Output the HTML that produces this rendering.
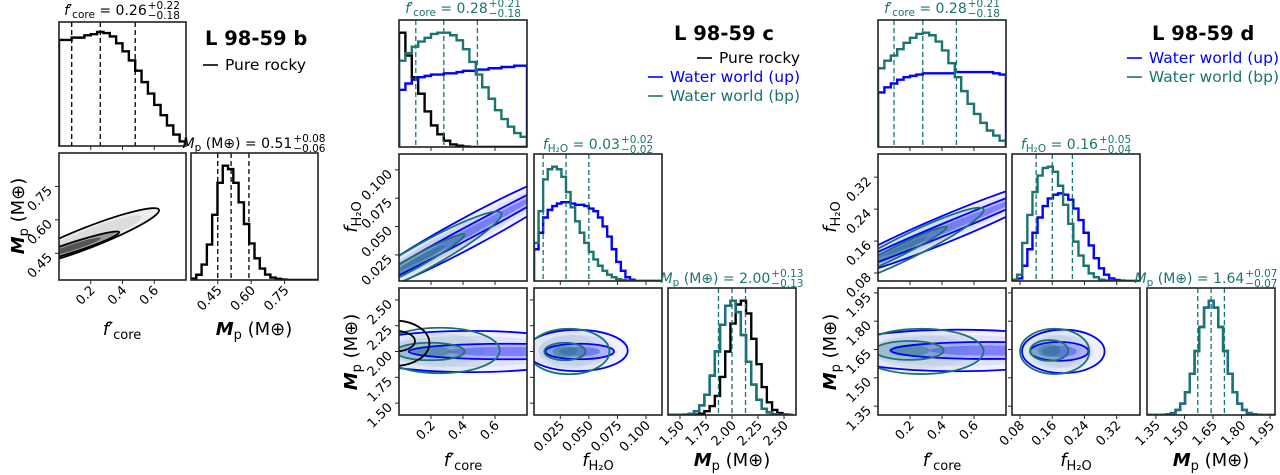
<!DOCTYPE html>
<html><head><meta charset="utf-8"><style>
html,body{margin:0;padding:0;background:#fff;}
svg{display:block;font-family:"DejaVu Sans","Liberation Sans",sans-serif;}
</style></head><body>
<svg id="chart" width="1280" height="475" viewBox="0 0 1280 475" xmlns="http://www.w3.org/2000/svg"></svg>
<script>
// ---------- data ----------
const TEAL='#1a7470', BLUE='#0000ff', BLACK='#000';
// planet b
const bCoreBins=[0.93,0.93,0.95,0.95,0.97,0.98,1.0,0.99,0.96,0.9,0.83,0.75,0.66,0.56,0.46,0.36,0.27,0.18,0.1,0.04].map(v=>v*0.92);
const bCoreQ=[0.08,0.26,0.48];
const bMpBins=[0.013,0.046,0.135,0.31,0.57,0.85,1.0,0.97,0.85,0.68,0.49,0.32,0.19,0.10,0.048,0.021,0.01,0.004,0,0,0,0,0,0].map(v=>v*0.9);
const bMpQ=[0.45,0.51,0.59];
const bContours=[[-0.25,0.40,0.63,0.645,0.05],[-0.2,0.41,0.38,0.545,0.023]];
// planet c
const cCoreRocky=[0.9,0.72,0.55,0.42,0.28,0.17,0.1,0.05,0.02,0.01,0.003,0,0,0,0,0,0,0,0,0];
const cCoreBP=[0.68,0.74,0.79,0.83,0.86,0.89,0.9,0.9,0.88,0.84,0.77,0.67,0.57,0.47,0.38,0.29,0.22,0.16,0.11,0.08];
const cCoreUP=[0.45,0.5,0.53,0.55,0.56,0.57,0.57,0.58,0.58,0.59,0.6,0.6,0.61,0.61,0.62,0.62,0.63,0.63,0.64,0.64];
const cCoreQ=[0.105,0.28,0.49];
const cWatBP=[0.3,0.55,0.8,0.88,0.9,0.88,0.82,0.7,0.58,0.47,0.38,0.3,0.23,0.17,0.12,0.08,0.05,0.03,0.015,0.008,0.004,0,0,0,0,0,0,0];
const cWatUP=[0.25,0.38,0.5,0.56,0.59,0.61,0.62,0.62,0.61,0.6,0.6,0.59,0.57,0.55,0.5,0.43,0.35,0.25,0.15,0.08,0.03,0.01,0,0,0,0,0,0];
const cWatQ=[0.01,0.03,0.05];
const cMpBP=[0,0,0,0.003,0.01,0.03,0.075,0.16,0.31,0.5,0.71,0.86,0.9,0.81,0.63,0.42,0.24,0.12,0.05,0.02,0.006,0.002,0,0];
const cMpUP=cMpBP.slice();
const cMpRocky=[0,0,0,0,0,0.003,0.01,0.03,0.07,0.15,0.3,0.5,0.72,0.87,0.9,0.8,0.6,0.4,0.22,0.1,0.04,0.015,0.004,0];
const cMpQ=[1.87,2.0,2.13];
const cCW_UP=[[-0.3,-0.011,1.2,0.103,0.015],[-0.3,-0.011,1.2,0.103,0.006]];
const cCW_BP=[[-0.3,-0.012,0.64,0.062,0.013],[-0.2,-0.005,0.41,0.043,0.006]];
const cCM_UP=[[-0.3,2.0,1.2,2.0,0.2],[0.06,2.0,1.3,2.0,0.075]];
const cCM_BP=[[-0.12,2.01,0.63,2.01,0.22],[-0.02,2.0,0.41,2.0,0.085]];
const cCM_R=[[-0.25,2.08,0.19,2.08,0.22],[-0.15,2.1,0.1,2.1,0.1]];
const cWM_UP=[[-0.005,2.01,0.084,2.01,0.2],[0.012,2.0,0.072,2.0,0.075]];
const cWM_BP=[[-0.003,2.0,0.068,2.0,0.22],[0.011,2.0,0.047,2.0,0.085]];
// planet d
const dCoreBP=[0.62,0.68,0.72,0.77,0.82,0.86,0.89,0.9,0.88,0.83,0.76,0.66,0.55,0.44,0.34,0.26,0.19,0.13,0.09,0.05];
const dCoreUP=[0.43,0.47,0.5,0.53,0.55,0.56,0.57,0.58,0.58,0.58,0.58,0.58,0.59,0.59,0.59,0.59,0.59,0.59,0.58,0.57];
const dCoreQ=[0.1,0.28,0.49];
const dWatBP=[0.01,0.05,0.3,0.52,0.7,0.83,0.89,0.9,0.86,0.75,0.6,0.45,0.31,0.2,0.12,0.06,0.03,0.01,0.004,0,0,0,0,0,0];
const dWatUP=[0.005,0.02,0.12,0.25,0.38,0.5,0.59,0.65,0.68,0.69,0.68,0.64,0.57,0.48,0.38,0.28,0.18,0.1,0.05,0.02,0.008,0.003,0,0,0];
const dWatQ=[0.12,0.16,0.21];
const dMpBP=[0,0,0,0.002,0.006,0.017,0.044,0.1,0.2,0.36,0.56,0.77,0.94,1,0.94,0.77,0.56,0.36,0.2,0.1,0.044,0.017,0.006,0.002,0,0,0].map(v=>v*0.9);
const dMpUP=dMpBP.slice();
const dMpQ=[1.57,1.64,1.71];
const dCW_UP=[[-0.3,0.07,1.2,0.32,0.036],[-0.3,0.07,1.2,0.32,0.016]];
const dCW_BP=[[-0.3,0.05,0.66,0.24,0.033],[-0.2,0.07,0.43,0.195,0.015]];
const dCM_UP=[[-0.3,1.645,1.3,1.645,0.11],[0.08,1.645,1.3,1.645,0.045]];
const dCM_BP=[[-0.12,1.64,0.66,1.64,0.12],[-0.02,1.645,0.41,1.645,0.05]];
const dWM_UP=[[0.085,1.64,0.29,1.64,0.115],[0.105,1.64,0.25,1.64,0.05]];
const dWM_BP=[[0.08,1.64,0.252,1.64,0.12],[0.105,1.645,0.2,1.645,0.055]];
// domains / ticks
const coreDom=[0,0.8], bMpDom=[0.33,0.90], cWatDom=[0.002,0.114], cMpDom=[1.385,2.615], dWatDom=[0.06,0.378], dMpDom=[1.303,1.976];
const coreTicks=[0.2,0.4,0.6], bMpTicks=[0.45,0.60,0.75], cWatTicks=[0.025,0.05,0.075,0.1], cMpTicks=[1.5,1.75,2.0,2.25,2.5], dWatTicks=[0.08,0.16,0.24,0.32], dMpTicks=[1.35,1.5,1.65,1.8,1.95];

// ---------- helpers ----------
const NS='http://www.w3.org/2000/svg';
const svg=document.getElementById('chart');
function mk(tag,attrs,parent){const e=document.createElementNS(NS,tag);for(const k in attrs)e.setAttribute(k,attrs[k]);(parent||svg).appendChild(e);return e;}
let clipId=0;
function panel(x,y,w,h,xd,yd){
  const id='cp'+(clipId++);
  const cp=mk('clipPath',{id:id});
  mk('rect',{x:x,y:y,width:w,height:h},cp);
  const g=mk('g',{'clip-path':'url(#'+id+')'});
  
  
  return {x,y,w,h,xd,yd,g,
    sx:v=>x+(v-xd[0])/(xd[1]-xd[0])*w,
    sy:v=>y+h-(v-yd[0])/(yd[1]-yd[0])*h};
}
function frame(p){
  const r=mk('rect',{x:p.x,y:p.y,width:p.w,height:p.h,fill:'none',stroke:'#222','stroke-width':1.6});
  
  
}
function hist(p,start,bw,vals,color){
  const fy=v=>p.y+p.h*(1-v);
  let d='M'+p.sx(start)+','+(p.y+p.h);
  vals.forEach((v,i)=>{d+=' L'+p.sx(start+i*bw)+','+fy(v)+' L'+p.sx(start+(i+1)*bw)+','+fy(v);});
  d+=' L'+p.sx(start+vals.length*bw)+','+(p.y+p.h);
  const e=mk('path',{d:d,fill:'none',stroke:color,'stroke-width':2.4,'stroke-linejoin':'miter'},p.g);
  
  
}
function quant(p,qs,color){
  qs.forEach(q=>{
    const l=mk('line',{x1:p.sx(q),x2:p.sx(q),y1:p.y,y2:p.y+p.h,stroke:color,'stroke-width':1.3,'stroke-dasharray':'5,3'},p.g);
    
    
  });
}
function ell(p,c,scale,attrs){
  const X1=p.sx(c[0]),Y1=p.sy(c[1]),X2=p.sx(c[2]),Y2=p.sy(c[3]);
  const cx=(X1+X2)/2,cy=(Y1+Y2)/2,L=Math.hypot(X2-X1,Y2-Y1)/2*scale;
  const ang=Math.atan2(Y2-Y1,X2-X1);
  const ry=c[4]/(p.yd[1]-p.yd[0])*p.h*Math.cos(ang)*scale;
  const a=Object.assign({cx:cx,cy:cy,rx:L,ry:ry,transform:'rotate('+(ang*180/Math.PI)+' '+cx+' '+cy+')'},attrs);
  return mk('ellipse',a,p.g);
}
function contourFill(p,cs,fillColor,ops){
  const f1=ell(p,cs[0],1,{fill:fillColor,'fill-opacity':ops[0],stroke:'none'});
  
  
  const f1b=ell(p,cs[0],0.75,{fill:fillColor,'fill-opacity':ops[0],stroke:'none'});
  
  
  const f2=ell(p,cs[1],1,{fill:fillColor,'fill-opacity':ops[1],stroke:'none'});
  
  
  const f3=ell(p,cs[1],0.6,{fill:fillColor,'fill-opacity':ops[2],stroke:'none'});
  
  
}
function contourLines(p,cs,color){
  cs.forEach(c=>{
    const e=ell(p,c,1,{fill:'none',stroke:color,'stroke-width':1.8});
    
    
  });
}
function fmt(v,dec){return v.toFixed(dec);}
function xticks(p,ticks,dec,labels){
  ticks.forEach(t=>{
    const X=p.sx(t);
    const l=mk('line',{x1:X,x2:X,y1:p.y+p.h,y2:p.y+p.h+4,stroke:'#222','stroke-width':1});
    
    
    if(labels){
      const tx=mk('text',{x:X+5,y:p.y+p.h+11,'font-size':13,'text-anchor':'end',transform:'rotate(-45 '+(X+5)+' '+(p.y+p.h+11)+')'});
      tx.textContent=fmt(t,dec);
      
      
    }
  });
}
function yticks(p,ticks,dec,labels){
  ticks.forEach(t=>{
    const Y=p.sy(t);
    const l=mk('line',{x1:p.x-4,x2:p.x,y1:Y,y2:Y,stroke:'#222','stroke-width':1});
    
    
    if(labels){
      const tx=mk('text',{x:p.x-6,y:Y+5,'font-size':13,'text-anchor':'end',transform:'rotate(-45 '+(p.x-6)+' '+(Y+5)+')'});
      tx.textContent=fmt(t,dec);
      
      
    }
  });
}
function histTitle(cx,y,kind,val,plus,minus,color){
  const g=mk('g',{});
  
  
  const t=mk('text',{x:0,y:y,'font-size':14,fill:color},g);
  if(kind==='core')t.innerHTML='<tspan font-style="italic">f′</tspan><tspan font-size="10.5" dy="3">core</tspan><tspan dy="-3"> = '+val+'</tspan>';
  else if(kind==='wat')t.innerHTML='<tspan font-style="italic">f</tspan><tspan font-size="10.5" dy="3">H₂O</tspan><tspan dy="-3"> = '+val+'</tspan>';
  else t.innerHTML='<tspan font-style="italic">M</tspan><tspan font-size="10.5" dy="3">p</tspan><tspan dy="-3"> (M⊕) = '+val+'</tspan>';
  let w=120; try{w=t.getComputedTextLength();}catch(e){}
  const s=mk('text',{x:w+1,y:y-6,'font-size':10.5,fill:color},g);
  s.textContent=plus;
  const m=mk('text',{x:w+1,y:y+4,'font-size':10.5,fill:color},g);
  m.textContent=minus;
  let sw=28; try{sw=Math.max(s.getComputedTextLength(),m.getComputedTextLength());}catch(e){}
  g.setAttribute('transform','translate('+(cx-(w+sw+1)/2)+',0)');
}
function axisLabel(x,y,kind,rot){
  const t=mk('text',{x:x,y:y,'font-size':18,'text-anchor':'middle'});
  if(rot)t.setAttribute('transform','rotate(-90 '+x+' '+y+')');
  if(kind==='core')t.innerHTML='<tspan font-style="italic">f′</tspan><tspan font-size="13" dy="4">core</tspan>';
  else if(kind==='wat')t.innerHTML='<tspan font-style="italic">f</tspan><tspan font-size="13" dy="4">H₂O</tspan>';
  else t.innerHTML='<tspan font-style="italic" font-weight="bold">M</tspan><tspan font-size="13" dy="4">p</tspan><tspan dy="-4"> (M⊕)</tspan>';
  
  
}
function legendEntry(xr,y,label,color){
  const t=mk('text',{x:xr,y:y,'font-size':15.5,fill:color,'text-anchor':'end'});
  t.textContent=label;
  
  
  let w=120; try{w=t.getComputedTextLength();}catch(e){}
  const l=mk('line',{x1:xr-w-22,x2:xr-w-7,y1:y-5,y2:y-5,stroke:color,'stroke-width':1.6});
  
  
}
function bigTitle(x,y,s){
  const t=mk('text',{x:x,y:y,'font-size':19.5,'font-weight':'bold'});
  t.textContent=s;
  
  
}
const BF=[0.06,0.18,0.3], TF=[0.07,0.22,0.4];

// ---------- planet b ----------
(function(){
  const p1=panel(59,22,127,124,coreDom,[0,1]);
  hist(p1,0,0.04,bCoreBins,BLACK);quant(p1,bCoreQ,BLACK);frame(p1);xticks(p1,coreTicks,1,false);
  const p2=panel(59,153,127,127,coreDom,bMpDom);
  contourFill(p2,bContours,'#000',[0.07,0.3,0.45]);contourLines(p2,bContours,BLACK);
  frame(p2);xticks(p2,coreTicks,1,true);yticks(p2,bMpTicks,2,true);
  const p3=panel(191,153,127,127,bMpDom,[0,1]);
  hist(p3,0.33,0.02375,bMpBins,BLACK);quant(p3,bMpQ,BLACK);frame(p3);xticks(p3,bMpTicks,2,true);
  histTitle(122,15,'core','0.26','+0.22','−0.18',BLACK);
  histTitle(254,148,'mp','0.51','+0.08','−0.06',BLACK);
  axisLabel(122,335,'core',false);axisLabel(254,335,'mp',false);axisLabel(24,216,'mp',true);
  bigTitle(205,45,'L 98-59 b');
  legendEntry(306,70,'Pure rocky',BLACK);
})();

// ---------- planet c ----------
(function(){
  const X=[399,534,668],Y=[20,154,288],W=128,H=127;
  const p1=panel(X[0],Y[0],W,H,coreDom,[0,1]);
  hist(p1,0,0.04,cCoreRocky,BLACK);hist(p1,0,0.04,cCoreUP,BLUE);hist(p1,0,0.04,cCoreBP,TEAL);quant(p1,cCoreQ,TEAL);frame(p1);xticks(p1,coreTicks,1,false);
  const p2=panel(X[0],Y[1],W,H,coreDom,cWatDom);
  contourFill(p2,cCW_UP,BLUE,BF);contourFill(p2,cCW_BP,TEAL,TF);
  contourLines(p2,cCW_UP,BLUE);contourLines(p2,cCW_BP,TEAL);
  frame(p2);xticks(p2,coreTicks,1,false);yticks(p2,cWatTicks,3,true);
  const p3=panel(X[1],Y[1],W,H,cWatDom,[0,1]);
  hist(p3,0.002,0.004,cWatUP,BLUE);hist(p3,0.002,0.004,cWatBP,TEAL);quant(p3,cWatQ,TEAL);frame(p3);xticks(p3,cWatTicks,3,false);
  const p4=panel(X[0],Y[2],W,H,coreDom,cMpDom);
  contourFill(p4,cCM_UP,BLUE,BF);contourFill(p4,cCM_BP,TEAL,TF);
  contourLines(p4,cCM_UP,BLUE);contourLines(p4,cCM_BP,TEAL);contourLines(p4,cCM_R,BLACK);
  frame(p4);xticks(p4,coreTicks,1,true);yticks(p4,cMpTicks,2,true);
  const p5=panel(X[1],Y[2],W,H,cWatDom,cMpDom);
  contourFill(p5,cWM_UP,BLUE,BF);contourFill(p5,cWM_BP,TEAL,TF);
  contourLines(p5,cWM_UP,BLUE);contourLines(p5,cWM_BP,TEAL);
  frame(p5);xticks(p5,cWatTicks,3,true);yticks(p5,cMpTicks,2,false);
  const p6=panel(X[2],Y[2],W,H,cMpDom,[0,1]);
  hist(p6,1.385,0.05,cMpRocky,BLACK);hist(p6,1.385,0.05,cMpUP,BLUE);hist(p6,1.385,0.05,cMpBP,TEAL);quant(p6,cMpQ,TEAL);frame(p6);xticks(p6,cMpTicks,2,true);
  histTitle(463,13,'core','0.28','+0.21','−0.18',TEAL);
  histTitle(598,149,'wat','0.03','+0.02','−0.02',TEAL);
  histTitle(732,283,'mp','2.00','+0.13','−0.13',TEAL);
  axisLabel(463,466,'core',false);axisLabel(598,466,'wat',false);axisLabel(732,466,'mp',false);
  axisLabel(357,217,'wat',true);axisLabel(357,352,'mp',true);
  bigTitle(674,40,'L 98-59 c');
  legendEntry(800,63,'Pure rocky',BLACK);
  legendEntry(800,82,'Water world (up)',BLUE);
  legendEntry(800,101,'Water world (bp)',TEAL);
})();

// ---------- planet d ----------
(function(){
  const X=[878,1012,1147],Y=[20,154,288],W=128,H=127;
  const p1=panel(X[0],Y[0],W,H,coreDom,[0,1]);
  hist(p1,0,0.04,dCoreUP,BLUE);hist(p1,0,0.04,dCoreBP,TEAL);quant(p1,dCoreQ,TEAL);frame(p1);xticks(p1,coreTicks,1,false);
  const p2=panel(X[0],Y[1],W,H,coreDom,dWatDom);
  contourFill(p2,dCW_UP,BLUE,BF);contourFill(p2,dCW_BP,TEAL,TF);
  contourLines(p2,dCW_UP,BLUE);contourLines(p2,dCW_BP,TEAL);
  frame(p2);xticks(p2,coreTicks,1,false);yticks(p2,dWatTicks,2,true);
  const p3=panel(X[1],Y[1],W,H,dWatDom,[0,1]);
  hist(p3,0.06,0.0127,dWatUP,BLUE);hist(p3,0.06,0.0127,dWatBP,TEAL);quant(p3,dWatQ,TEAL);frame(p3);xticks(p3,dWatTicks,2,false);
  const p4=panel(X[0],Y[2],W,H,coreDom,dMpDom);
  contourFill(p4,dCM_UP,BLUE,BF);contourFill(p4,dCM_BP,TEAL,TF);
  contourLines(p4,dCM_UP,BLUE);contourLines(p4,dCM_BP,TEAL);
  frame(p4);xticks(p4,coreTicks,1,true);yticks(p4,dMpTicks,2,true);
  const p5=panel(X[1],Y[2],W,H,dWatDom,dMpDom);
  contourFill(p5,dWM_UP,BLUE,BF);contourFill(p5,dWM_BP,TEAL,TF);
  contourLines(p5,dWM_UP,BLUE);contourLines(p5,dWM_BP,TEAL);
  frame(p5);xticks(p5,dWatTicks,2,true);yticks(p5,dMpTicks,2,false);
  const p6=panel(X[2],Y[2],W,H,dMpDom,[0,1]);
  hist(p6,1.303,0.025,dMpUP,BLUE);hist(p6,1.303,0.025,dMpBP,TEAL);quant(p6,dMpQ,TEAL);frame(p6);xticks(p6,dMpTicks,2,true);
  histTitle(942,13,'core','0.28','+0.21','−0.18',TEAL);
  histTitle(1076,149,'wat','0.16','+0.05','−0.04',TEAL);
  histTitle(1206,283,'mp','1.64','+0.07','−0.07',TEAL);
  axisLabel(942,466,'core',false);axisLabel(1076,466,'wat',false);axisLabel(1211,466,'mp',false);
  axisLabel(836,217,'wat',true);axisLabel(836,352,'mp',true);
  bigTitle(1152,40,'L 98-59 d');
  legendEntry(1279,63,'Water world (up)',BLUE);
  legendEntry(1279,82,'Water world (bp)',TEAL);
})();
</script>
</body></html>
